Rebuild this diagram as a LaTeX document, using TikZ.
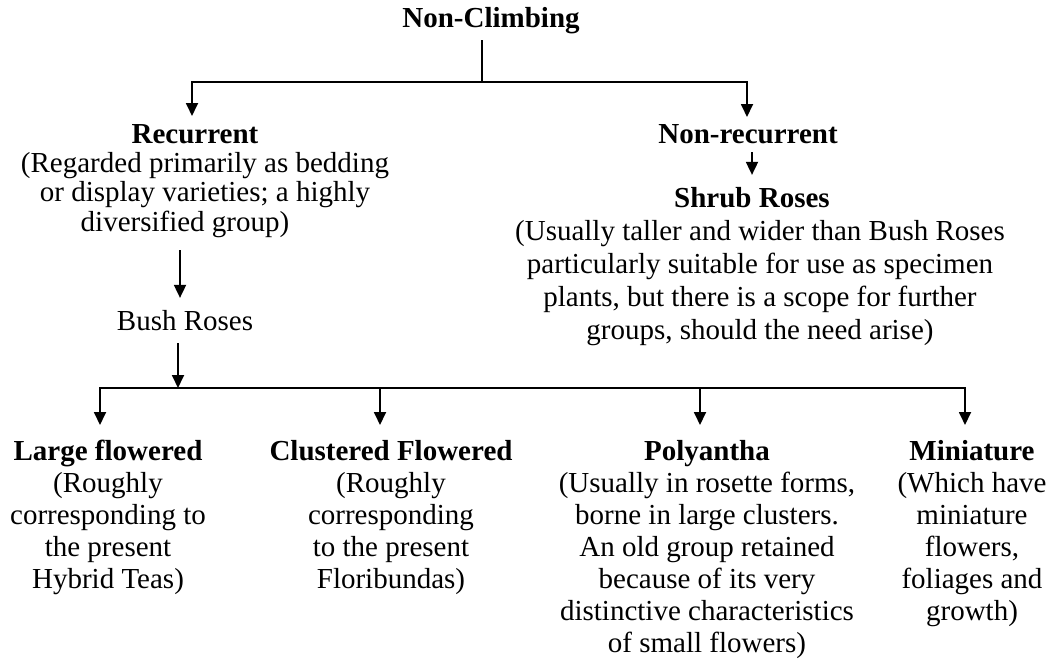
\documentclass[tikz,border=0pt]{standalone}
\usepackage{fontspec}
\setmainfont{Liberation Serif}
\usetikzlibrary{arrows.meta}
\begin{document}
\begin{tikzpicture}[x=1pt,y=-1pt,
  txt/.style={font=\fontsize{29}{32}\selectfont, align=center, inner sep=0pt, outer sep=0pt},
  hd/.style={txt, font=\fontsize{29}{32}\selectfont\bfseries, anchor=base},
  para/.style={txt, anchor=north},
  conn/.style={line width=1.8pt},
  arr/.style={conn, -{Triangle[length=13pt,width=12pt]}}]
\useasboundingbox (0,0) rectangle (1057,667);

% top
\node[hd] (nc) at (491,27) {Non-Climbing};
\coordinate (j1) at (482,82);
\coordinate (t1) at (192,116);
\coordinate (t2) at (747,117);
\draw[conn, shorten <=7pt] (nc.south -| j1) -- (j1);
\draw[arr] (j1) -| (t1);
\draw[arr] (j1) -| (t2);

% left branch
\node[hd] (rec) at (195,143) {Recurrent};
\node[para, font=\fontsize{29}{29.5}\selectfont] (recd) at (205,152) {(Regarded primarily as bedding\\or display varieties; a highly\\diversified group)\hspace*{40pt}};
\node[txt, anchor=base] (bush) at (185,330) {Bush Roses};
\coordinate (ba) at (180,250);
\draw[arr, shorten >=12pt] (ba) -- (bush.north -| ba);

% right branch
\node[hd] (nrec) at (748,143) {Non-recurrent};
\node[hd] (shrub) at (752,207) {Shrub Roses};
\draw[arr, shorten <=9pt, shorten >=12pt] (nrec.south -| shrub) -- (shrub.north);
\node[txt, anchor=north, font=\fontsize{29}{33}\selectfont] (shrubd) at (760,220) {(Usually taller and wider than Bush Roses\\particularly suitable for use as specimen\\plants, but there is a scope for further\\groups, should the need arise)};

% bottom distribution
\coordinate (bj) at (178,388);
\coordinate (d1) at (100,425);
\coordinate (d2) at (380,425);
\coordinate (d3) at (700,425);
\coordinate (d4) at (965,425);
\draw[arr, shorten <=13pt] (bush.south -| bj) -- (bj);
\draw[arr] (bj) -| (d1);
\draw[arr] (bj) -| (d2);
\draw[arr] (bj) -| (d3);
\draw[arr] (bj) -| (d4);

\node[hd] (lf) at (108,460) {Large flowered};
\node[para] (lfd) at (108,472) {(Roughly\\corresponding to\\the present\\Hybrid Teas)};
\node[hd] (cf) at (391,460) {Clustered Flowered};
\node[para] (cfd) at (391,472) {(Roughly\\corresponding\\to the present\\Floribundas)};
\node[hd] (po) at (707,460) {Polyantha};
\node[para] (pod) at (707,472) {(Usually in rosette forms,\\borne in large clusters.\\An old group retained\\because of its very\\distinctive characteristics\\of small flowers)};
\node[hd] (mi) at (972,460) {Miniature};
\node[para] (mid) at (972,472) {(Which have\\miniature\\flowers,\\foliages and\\growth)};
\end{tikzpicture}
\end{document}
